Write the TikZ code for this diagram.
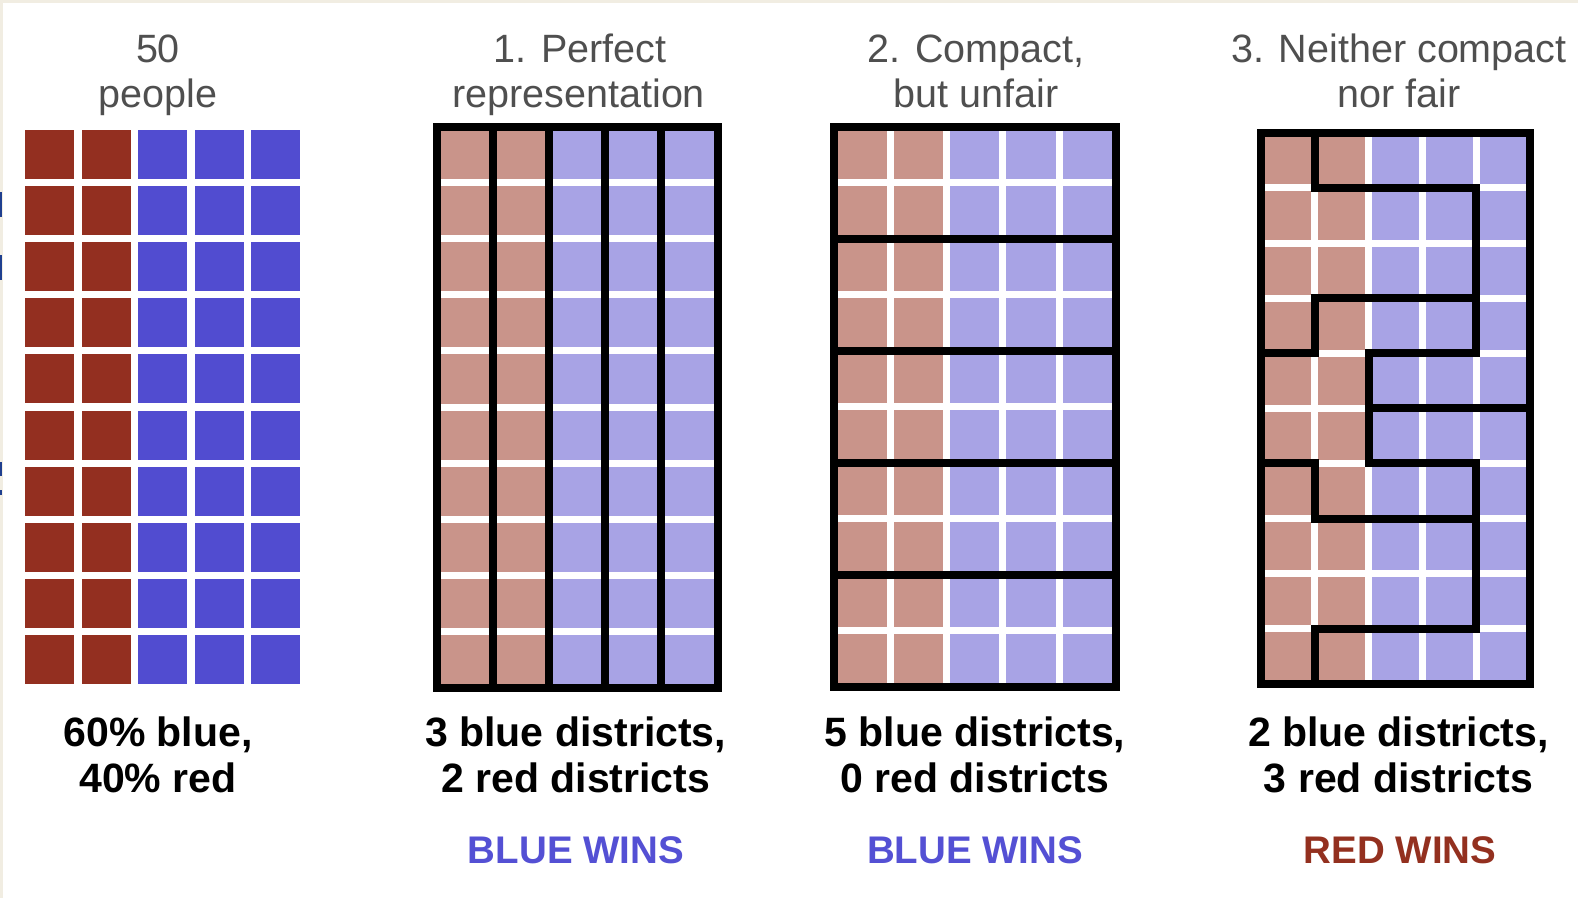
\documentclass[tikz,border=0pt]{standalone}
\usepackage{fontspec}
\setmainfont{Liberation Sans}
\definecolor{dred}{HTML}{932F20}
\definecolor{dblue}{HTML}{514CD0}
\definecolor{pred}{HTML}{C9948A}
\definecolor{pblue}{HTML}{A8A3E5}
\definecolor{tgray}{HTML}{4F4F4F}
\definecolor{winblue}{HTML}{5450D4}
\definecolor{winred}{HTML}{93301F}
\definecolor{edgec}{HTML}{F1EDE2}
\definecolor{frag}{HTML}{1F3F8F}
\tikzset{
 ttl/.style={anchor=base, inner sep=0pt, text=tgray, font=\fontsize{39.5}{45}\selectfont},
 res/.style={anchor=base, inner sep=0pt, text=black, font=\fontsize{41}{45}\selectfont\bfseries},
 wins/.style={anchor=base, inner sep=0pt, font=\fontsize{38.5}{45}\selectfont\bfseries},
 district/.style={line width=8pt, line cap=rect, line join=miter, draw=black},
 gridline/.style={line width=7pt, draw=white},
}
\newcommand{\mappanel}[5]{%
 \begin{scope}[shift={(#1,#2)}, x=#3pt, y=-#4pt]
  \fill[pred] (0,0) rectangle (2,10);
  \fill[pblue] (2,0) rectangle (5,10);
  \foreach \c in {1,...,4} \draw[gridline] (\c,0) -- (\c,10);
  \foreach \r in {1,...,9} \draw[gridline] (0,\r) -- (5,\r);
  #5
  \draw[district] (0,0) rectangle (5,10);
 \end{scope}}
\begin{document}
\begin{tikzpicture}[x=1pt,y=-1pt]
\useasboundingbox (0,0) rectangle (1578,898);
\fill[white] (0,0) rectangle (1578,898);
\fill[edgec] (0,0) rectangle (1578,2.5);
\fill[edgec] (0,0) rectangle (2.5,898);
\fill[frag] (0,192) rectangle (2,217);
\fill[frag] (0,255) rectangle (2,280);
\fill[frag] (0,462) rectangle (2,476);
\fill[frag] (0,490) rectangle (2,495);

% panel 0: 50 people
\foreach \j in {0,...,9} {
  \foreach \i in {0,1} \fill[dred] (25+\i*56.5,130+\j*56.1) rectangle +(49,49);
  \foreach \i in {2,3,4} \fill[dblue] (25+\i*56.5,130+\j*56.1) rectangle +(49,49);
}

% panel 1
\mappanel{436.5}{126.5}{56.2}{56.1}{\foreach \c in {1,...,4} \draw[district] (\c,0) -- (\c,10);}
% panel 2
\mappanel{834}{126.7}{56.3}{56.0}{\foreach \r in {2,4,6,8} \draw[district] (0,\r) -- (5,\r);}
% panel 3
\mappanel{1261}{132.8}{53.8}{55.1}{%
  \draw[district] (1,0) -- (1,1) -- (4,1) -- (4,4) -- (2,4) -- (2,6) -- (4,6) -- (4,9) -- (1,9) -- (1,10);
  \draw[district] (4,3) -- (1,3) -- (1,4) -- (0,4);
  \draw[district] (2,5) -- (5,5);
  \draw[district] (0,6) -- (1,6) -- (1,7) -- (4,7);}

% titles
\node[ttl] (t0a) at (158,62.4) {50};
\node[ttl] (t0b) at (158,107.7) {people};
\node[ttl] (t1a) at (580,62.4) {1. Perfect};
\node[ttl] (t1b) at (578.7,107.7) {representation};
\node[ttl] (t2a) at (976,62.4) {2. Compact,};
\node[ttl] (t2b) at (976,107.7) {but unfair};
\node[ttl] (t3a) at (1399,62.4) {3. Neither compact};
\node[ttl] (t3b) at (1399,107.7) {nor fair};

% results
\node[res] (r0a) at (158,746.7) {60\% blue,};
\node[res] (r0b) at (158,792) {40\% red};
\node[res] (r1a) at (575.7,746.7) {3 blue districts,};
\node[res] (r1b) at (575.7,792) {2 red districts};
\node[res] (r2a) at (975,746.7) {5 blue districts,};
\node[res] (r2b) at (975,792) {0 red districts};
\node[res] (r3a) at (1398.4,746.7) {2 blue districts,};
\node[res] (r3b) at (1398.4,792) {3 red districts};

\node[wins, text=winblue] (w1) at (576,863.5) {BLUE WINS};
\node[wins, text=winblue] (w2) at (975,863.5) {BLUE WINS};
\node[wins, text=winred] (w3) at (1400,863.5) {RED WINS};
\end{tikzpicture}
\end{document}
